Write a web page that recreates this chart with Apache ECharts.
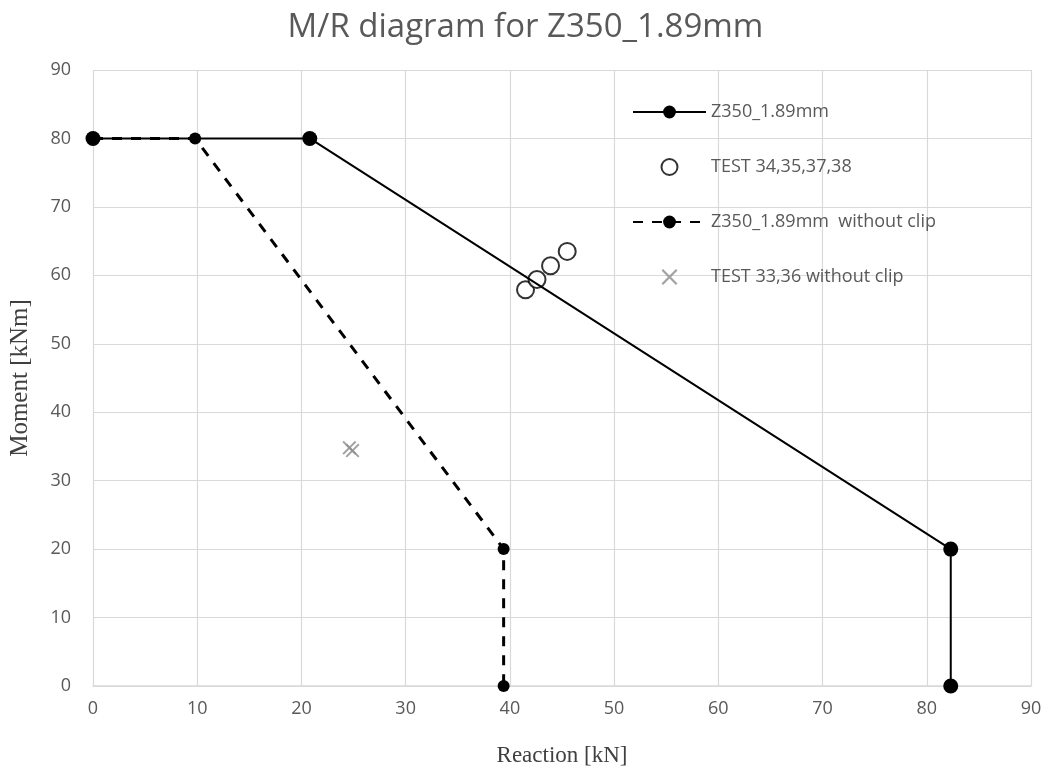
<!DOCTYPE html>
<html>
<head>
<meta charset="utf-8">
<script src="https://cdn.jsdelivr.net/npm/echarts@6/dist/echarts.min.js"></script>
<style>
  html, body { margin: 0; padding: 0; background: #fff; }
  #main { width: 1051px; height: 772px; }
</style>
</head>
<body>
<div id="main"></div>
<script>
var chartDom = document.getElementById('main');
var myChart = echarts.init(chartDom);
var option;

// Z350_1.89mm design curve [reaction kN, moment kNm]
var z350 = [[0, 80], [20.8, 80], [82.3, 20], [82.3, 0]];
// tests with clip
var testClip = [[41.5, 57.9], [42.6, 59.4], [43.9, 61.4], [45.5, 63.5]];
// design curve without clip
var z350NoClip = [[0, 80], [9.8, 80], [39.4, 20], [39.4, 0]];
// tests without clip
var testNoClip = [[24.6, 34.8], [24.9, 34.4]];

var crossPath = 'path://M0,1 L1,0 L5,4 L9,0 L10,1 L6,5 L10,9 L9,10 L5,6 L1,10 L0,9 L4,5 Z';

option = {
  animation: false,
  title: {
    text: 'M/R diagram for Z350_1.89mm',
    left: 'center',
    top: 6,
    textStyle: {
      fontFamily: 'Open Sans',
      fontSize: 33,
      fontWeight: 'normal',
      color: '#595959'
    }
  },
  legend: {
    orient: 'vertical',
    left: 627,
    top: 98,
    itemGap: 37,
    itemWidth: 73,
    itemHeight: 16,
    textStyle: {
      fontFamily: 'Open Sans',
      fontSize: 18,
      color: '#595959'
    },
    data: [
      'Z350_1.89mm',
      'TEST 34,35,37,38',
      'Z350_1.89mm  without clip',
      'TEST 33,36 without clip'
    ]
  },
  grid: {
    left: 93,
    right: 20,
    top: 70,
    bottom: 86,
    outerBoundsMode: 'none'
  },
  xAxis: {
    type: 'value',
    min: 0,
    max: 90,
    interval: 10,
    name: 'Reaction [kN]',
    nameLocation: 'middle',
    nameGap: 58,
    nameTextStyle: {
      fontFamily: 'Liberation Serif',
      fontSize: 23,
      color: '#404040'
    },
    axisLine: { lineStyle: { color: '#d9d9d9', width: 1.5 } },
    axisTick: { show: false },
    axisLabel: {
      fontFamily: 'Open Sans',
      fontSize: 18,
      color: '#595959',
      margin: 14
    },
    splitLine: { lineStyle: { color: '#d9d9d9', width: 1.2 } }
  },
  yAxis: {
    type: 'value',
    min: 0,
    max: 90,
    interval: 10,
    name: 'Moment [kNm]',
    nameLocation: 'middle',
    nameGap: 60,
    nameTextStyle: {
      fontFamily: 'Liberation Serif',
      fontSize: 25,
      color: '#404040'
    },
    axisLine: { show: false },
    axisTick: { show: false },
    axisLabel: {
      fontFamily: 'Open Sans',
      fontSize: 18,
      color: '#595959',
      margin: 22
    },
    splitLine: { lineStyle: { color: '#d9d9d9', width: 1.2 } }
  },
  series: [
    {
      name: 'Z350_1.89mm',
      type: 'line',
      data: z350,
      symbol: 'circle',
      symbolSize: 15,
      itemStyle: { color: '#000' },
      lineStyle: { color: '#000', width: 2 }
    },
    {
      name: 'TEST 34,35,37,38',
      type: 'scatter',
      data: testClip,
      symbol: 'emptyCircle',
      symbolSize: 17,
      itemStyle: { color: '#000', borderColor: '#000', borderWidth: 3 }
    },
    {
      name: 'Z350_1.89mm  without clip',
      type: 'line',
      data: z350NoClip,
      symbol: 'circle',
      symbolSize: 12,
      itemStyle: { color: '#000' },
      lineStyle: { color: '#000', width: 3, type: [10, 9] }
    },
    {
      name: 'TEST 33,36 without clip',
      type: 'scatter',
      data: testNoClip,
      symbol: crossPath,
      symbolSize: 14,
      itemStyle: { color: '#8c8c8c' }
    }
  ]
};

option && myChart.setOption(option);
</script>
</body>
</html>
